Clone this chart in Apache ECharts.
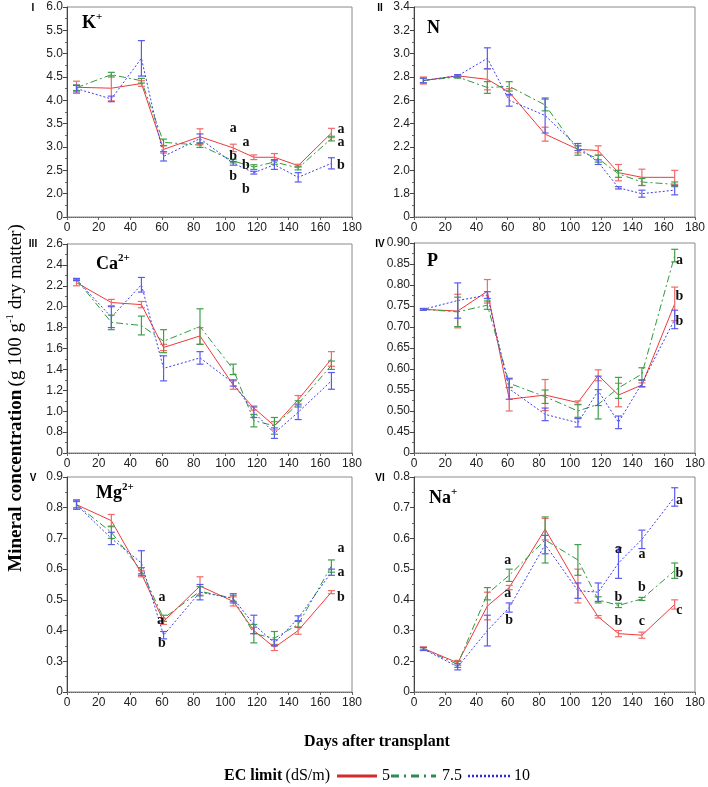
<!DOCTYPE html>
<html>
<head>
<meta charset="utf-8">
<script src="https://cdn.jsdelivr.net/npm/echarts@6/dist/echarts.min.js"></script>
<style>html,body{margin:0;padding:0;background:#fff}#c{width:708px;height:787px}</style>
</head>
<body>
<div id="c"></div>
<script>
// ---- data ----
const days = [6, 28, 47, 61, 84, 105, 118, 131, 146, 167];
const ecLabels = ['5', '7.5', '10'];

// I  K+
const K_5      = [4.28, 4.26, 4.36, 2.95, 3.22, 2.98, 2.78, 2.78, 2.60, 3.30];
const K_5_err  = [0.13, 0.27, 0.06, 0.08, 0.17, 0.08, 0.05, 0.08, 0.03, 0.10];
const K_75     = [4.27, 4.55, 4.42, 3.10, 3.04, 2.70, 2.57, 2.68, 2.55, 3.18];
const K_75_err = [0.06, 0.05, 0.05, 0.07, 0.05, 0.04, 0.05, 0.05, 0.04, 0.05];
const K_10     = [4.25, 4.03, 4.90, 2.80, 3.18, 2.65, 2.45, 2.62, 2.35, 2.65];
const K_10_err = [0.07, 0.06, 0.38, 0.10, 0.10, 0.04, 0.03, 0.10, 0.10, 0.12];
const K_letters = [[105,3.39,'a'],[105,2.80,'b'],[105,2.36,'b'],[113,3.10,'a'],[113,2.60,'b'],[113,2.10,'b'],[173,3.37,'a'],[173,3.10,'a'],[173,2.60,'b']];

// II  N
const N_5      = [2.77, 2.81, 2.78, 2.67, 2.31, 2.18, 2.17, 1.98, 1.94, 1.94];
const N_5_err  = [0.03, 0.01, 0.09, 0.03, 0.06, 0.03, 0.04, 0.07, 0.07, 0.06];
const N_75     = [2.77, 2.80, 2.71, 2.72, 2.56, 2.17, 2.10, 1.97, 1.90, 1.88];
const N_75_err = [0.02, 0.01, 0.05, 0.04, 0.05, 0.04, 0.03, 0.03, 0.03, 0.02];
const N_10     = [2.77, 2.81, 2.96, 2.60, 2.47, 2.20, 2.07, 1.85, 1.80, 1.83];
const N_10_err = [0.02, 0.01, 0.09, 0.05, 0.15, 0.03, 0.02, 0.01, 0.03, 0.04];
const N_letters = [];

// III  Ca2+
const Ca_5      = [2.23, 2.04, 2.02, 1.61, 1.72, 1.25, 1.03, 0.86, 1.11, 1.50];
const Ca_5_err  = [0.03, 0.03, 0.03, 0.03, 0.08, 0.04, 0.02, 0.04, 0.04, 0.07];
const Ca_75     = [2.26, 1.85, 1.82, 1.67, 1.81, 1.40, 0.91, 0.86, 1.07, 1.44];
const Ca_75_err = [0.01, 0.07, 0.09, 0.11, 0.17, 0.05, 0.06, 0.08, 0.03, 0.04];
const Ca_10     = [2.26, 1.90, 2.21, 1.41, 1.51, 1.27, 0.99, 0.79, 0.99, 1.29];
const Ca_10_err = [0.01, 0.10, 0.07, 0.12, 0.06, 0.03, 0.05, 0.05, 0.07, 0.08];
const Ca_letters = [];

// IV  P
const P_5      = [0.742, 0.738, 0.785, 0.528, 0.538, 0.520, 0.585, 0.538, 0.562, 0.755];
const P_5_err  = [0.002, 0.040, 0.028, 0.028, 0.037, 0.004, 0.013, 0.028, 0.005, 0.040];
const P_75     = [0.742, 0.736, 0.752, 0.566, 0.534, 0.500, 0.516, 0.555, 0.588, 0.870];
const P_75_err = [0.002, 0.035, 0.010, 0.010, 0.016, 0.015, 0.035, 0.025, 0.015, 0.015];
const P_10     = [0.742, 0.763, 0.776, 0.553, 0.492, 0.472, 0.548, 0.473, 0.566, 0.718];
const P_10_err = [0.002, 0.042, 0.008, 0.025, 0.015, 0.010, 0.035, 0.015, 0.008, 0.022];
const P_letters = [[170,0.858,'a'],[170,0.772,'b'],[170,0.713,'b']];

// V  Mg2+
const Mg_5      = [0.81, 0.758, 0.585, 0.43, 0.545, 0.495, 0.40, 0.345, 0.40, 0.525];
const Mg_5_err  = [0.015, 0.02, 0.01, 0.01, 0.03, 0.015, 0.01, 0.01, 0.012, 0.005];
const Mg_75     = [0.81, 0.72, 0.595, 0.44, 0.528, 0.505, 0.39, 0.375, 0.42, 0.61];
const Mg_75_err = [0.01, 0.02, 0.01, 0.01, 0.015, 0.01, 0.03, 0.022, 0.01, 0.02];
const Mg_10     = [0.81, 0.70, 0.62, 0.385, 0.525, 0.505, 0.42, 0.36, 0.44, 0.59];
const Mg_10_err = [0.015, 0.02, 0.04, 0.012, 0.025, 0.015, 0.03, 0.01, 0.008, 0.01];
const Mg_letters = [[60,0.508,'a'],[59,0.433,'a'],[60,0.357,'b'],[173,0.666,'a'],[173,0.588,'a'],[173,0.509,'b']];

// VI  Na+
const Na_5      = [0.242, 0.195, 0.38, 0.44, 0.63, 0.445, 0.345, 0.29, 0.285, 0.385];
const Na_5_err  = [0.005, 0.008, 0.045, 0.007, 0.035, 0.055, 0.004, 0.01, 0.01, 0.015];
const Na_75     = [0.24, 0.19, 0.42, 0.48, 0.595, 0.53, 0.40, 0.382, 0.403, 0.495];
const Na_75_err = [0.004, 0.01, 0.02, 0.02, 0.075, 0.05, 0.01, 0.007, 0.005, 0.025];
const Na_10     = [0.24, 0.182, 0.30, 0.375, 0.58, 0.43, 0.425, 0.52, 0.597, 0.735];
const Na_10_err = [0.005, 0.01, 0.05, 0.015, 0.03, 0.025, 0.03, 0.05, 0.03, 0.03];
const Na_letters = [[60,0.527,'a'],[60,0.42,'a'],[61,0.332,'b'],[131,0.565,'a'],[131,0.409,'b'],[131,0.33,'b'],[146,0.549,'a'],[146,0.442,'b'],[146,0.33,'c'],[170,0.725,'a'],[170,0.486,'b'],[170,0.367,'c']];

// y axis ranges (bottom value is drawn as the broken "0")
const yMins = [1.5, 1.6, 0.6, 0.40, 0.2, 0.1];
const yMaxs = [6.0, 3.4, 2.6, 0.90, 0.9, 0.8];
const yInts = [0.5, 0.2, 0.2, 0.05, 0.1, 0.1];
const yDecs = [1, 1, 1, 2, 1, 1];

// ---- layout / style ----
const SANS = 'Liberation Sans', SERIF = 'Liberation Serif';
const lineColors = ['#ee3a3a', '#2f9a3e', '#3c3ced'];
const barColors = ['#f06a6a', '#3f9f4a', '#5a5af0'];
const lineTypes = ['solid', [7, 3, 2, 3], [2, 2]];

const panels = [
  { s: [K_5, K_75, K_10],   e: [K_5_err, K_75_err, K_10_err],   letters: K_letters,  left: 67,  top: 7,   width: 285, height: 210 },
  { s: [N_5, N_75, N_10],   e: [N_5_err, N_75_err, N_10_err],   letters: N_letters,  left: 414, top: 7,   width: 284, height: 210 },
  { s: [Ca_5, Ca_75, Ca_10],e: [Ca_5_err, Ca_75_err, Ca_10_err],letters: Ca_letters, left: 67,  top: 244, width: 285, height: 209 },
  { s: [P_5, P_75, P_10],   e: [P_5_err, P_75_err, P_10_err],   letters: P_letters,  left: 414, top: 243, width: 284, height: 210 },
  { s: [Mg_5, Mg_75, Mg_10],e: [Mg_5_err, Mg_75_err, Mg_10_err],letters: Mg_letters, left: 67,  top: 477, width: 285, height: 215 },
  { s: [Na_5, Na_75, Na_10],e: [Na_5_err, Na_75_err, Na_10_err],letters: Na_letters, left: 414, top: 477, width: 284, height: 215 }
];

const grids = panels.map(p => ({ left: p.left, top: p.top, width: p.width, height: p.height, show: true, borderColor: '#8a8a8a', borderWidth: 1, containLabel: false }));

const xAxes = panels.map((p, i) => ({
  type: 'value', gridIndex: i, min: 0, max: 180, interval: 20,
  axisLine: { show: true, lineStyle: { color: '#666', type: 'dotted', width: 1 } },
  axisTick: { show: true, length: 3, lineStyle: { color: '#666' } },
  axisLabel: { fontFamily: SANS, fontSize: 12, color: '#222', margin: 5 },
  splitLine: { show: false }
}));

const yAxes = panels.map((p, i) => ({
  type: 'value', gridIndex: i, min: yMins[i], max: yMaxs[i], interval: yInts[i],
  axisLine: { show: true, lineStyle: { color: '#444', width: 1 } },
  axisTick: { show: true, length: 4, lineStyle: { color: '#444' } },
  minorTick: { show: true, splitNumber: 2, length: 2, lineStyle: { color: '#666' } },
  axisLabel: {
    fontFamily: SANS, fontSize: 12, color: '#222', margin: 4,
    formatter: v => Math.abs(v - yMins[i]) < 1e-9 ? '0' : v.toFixed(yDecs[i])
  },
  splitLine: { show: false }
}));

function errRender(color) {
  return function (params, api) {
    const x = api.value(0), lo = api.value(1), hi = api.value(2);
    const a = api.coord([x, lo]), b = api.coord([x, hi]);
    const st = { stroke: color, lineWidth: 1.2 };
    const w = 3.5;
    return {
      type: 'group', children: [
        { type: 'line', shape: { x1: a[0], y1: a[1], x2: b[0], y2: b[1] }, style: st },
        { type: 'line', shape: { x1: a[0] - w, y1: a[1], x2: a[0] + w, y2: a[1] }, style: st },
        { type: 'line', shape: { x1: b[0] - w, y1: b[1], x2: b[0] + w, y2: b[1] }, style: st }
      ]
    };
  };
}

function letterRender(params, api) {
  const pt = api.coord([api.value(0), api.value(1)]);
  return {
    type: 'text', x: pt[0], y: pt[1],
    style: { text: api.value(2), fill: '#111', font: 'bold 14px "' + SERIF + '"', align: 'center', verticalAlign: 'middle' }
  };
}

const series = [];
panels.forEach((p, i) => {
  for (let k = 0; k < 3; k++) {
    series.push({
      type: 'line', name: ecLabels[k], xAxisIndex: i, yAxisIndex: i, symbol: 'none', z: 3,
      data: days.map((d, j) => [d, p.s[k][j]]),
      lineStyle: { color: lineColors[k], width: 1, type: lineTypes[k] }
    });
    series.push({
      type: 'custom', xAxisIndex: i, yAxisIndex: i, z: 4,
      encode: { x: 0, y: [1, 2] },
      data: days.map((d, j) => [d, p.s[k][j] - p.e[k][j], p.s[k][j] + p.e[k][j]]),
      renderItem: errRender(barColors[k])
    });
  }
  if (p.letters.length) {
    series.push({
      type: 'custom', xAxisIndex: i, yAxisIndex: i, z: 5,
      encode: { x: 0, y: 1 },
      dimensions: ['x', 'y', { name: 't', type: 'ordinal' }],
      data: p.letters,
      renderItem: letterRender
    });
  }
});

// ---- texts ----
const titleRich = {
  b: { fontFamily: SERIF, fontWeight: 'bold', fontSize: 18, lineHeight: 20, verticalAlign: 'bottom' },
  s: { fontFamily: SERIF, fontWeight: 'bold', fontSize: 11, lineHeight: 20, verticalAlign: 'top' }
};
function ionTitle(x, y, text) {
  return { type: 'text', x: x, y: y, style: { text: text, rich: titleRich, fill: '#000', verticalAlign: 'middle' } };
}
function roman(x, y, t) {
  return { type: 'text', x: x, y: y, style: { text: t, fill: '#000', font: 'bold 10px "' + SANS + '"', align: 'center', verticalAlign: 'middle' } };
}

const graphics = [
  ionTitle(82, 22, '{b|K}{s|+}'),
  ionTitle(427, 27, '{b|N}'),
  ionTitle(96, 263, '{b|Ca}{s|2+}'),
  ionTitle(427, 260, '{b|P}'),
  ionTitle(96, 492, '{b|Mg}{s|2+}'),
  ionTitle(429, 497, '{b|Na}{s|+}'),
  roman(33, 8, 'I'), roman(380, 8, 'II'),
  roman(33, 244, 'III'), roman(380, 244, 'IV'),
  roman(33, 478, 'V'), roman(380, 478, 'VI'),
  {
    type: 'text', x: 15, y: 398, rotation: Math.PI / 2,
    style: {
      text: '{b|Mineral concentration} {r|(g 100 g}{s|-1}{r| dry matter)}',
      align: 'center', verticalAlign: 'middle', fill: '#000',
      rich: {
        b: { fontFamily: SERIF, fontWeight: 'bold', fontSize: 19, lineHeight: 21, verticalAlign: 'bottom' },
        r: { fontFamily: SERIF, fontSize: 19, lineHeight: 21, verticalAlign: 'bottom' },
        s: { fontFamily: SERIF, fontSize: 11, lineHeight: 21, verticalAlign: 'top' }
      }
    }
  },
  {
    type: 'text', x: 377, y: 742,
    style: { text: 'Days after transplant', fill: '#000', font: 'bold 16px "' + SERIF + '"', align: 'center', verticalAlign: 'middle' }
  },
  {
    type: 'text', x: 224, y: 776,
    style: {
      text: '{b|EC limit} {r|(dS/m)}', fill: '#000', verticalAlign: 'middle',
      rich: { b: { fontFamily: SERIF, fontWeight: 'bold', fontSize: 16 }, r: { fontFamily: SERIF, fontSize: 16 } }
    }
  },
  { type: 'line', shape: { x1: 337, y1: 776, x2: 377, y2: 776 }, style: { stroke: '#d42a2a', lineWidth: 3 } },
  { type: 'text', x: 382, y: 776, style: { text: ecLabels[0], fill: '#000', font: '16px "' + SERIF + '"', verticalAlign: 'middle' } },
  { type: 'line', shape: { x1: 391, y1: 776, x2: 436, y2: 776 }, style: { stroke: '#2e8b57', lineWidth: 3, lineDash: [8, 5, 2, 5] } },
  { type: 'text', x: 442, y: 776, style: { text: ecLabels[1], fill: '#000', font: '16px "' + SERIF + '"', verticalAlign: 'middle' } },
  { type: 'line', shape: { x1: 468, y1: 776, x2: 510, y2: 776 }, style: { stroke: '#2a2ad0', lineWidth: 2.5, lineDash: [2, 2] } },
  { type: 'text', x: 514, y: 776, style: { text: ecLabels[2], fill: '#000', font: '16px "' + SERIF + '"', verticalAlign: 'middle' } }
];

const chart = echarts.init(document.getElementById('c'), null, { renderer: 'canvas' });
chart.setOption({
  animation: false,
  backgroundColor: '#fff',
  grid: grids,
  xAxis: xAxes,
  yAxis: yAxes,
  series: series,
  graphic: graphics
});
</script>
</body>
</html>
